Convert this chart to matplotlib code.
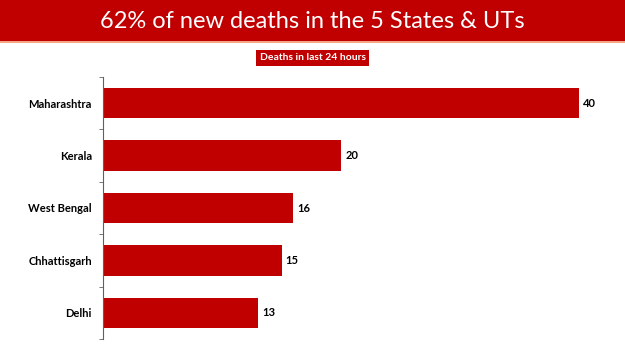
import matplotlib.pyplot as plt
from matplotlib.patches import Rectangle

states = ['Maharashtra', 'Kerala', 'West Bengal', 'Chhattisgarh', 'Delhi']
deaths = [40, 20, 16, 15, 13]

title = '62% of new deaths in the 5 States & UTs'
subtitle = 'Deaths in last 24 hours'
red = '#C00000'

plt.rcParams['font.family'] = ['Lato', 'DejaVu Sans']

fig = plt.figure(figsize=(6.25, 3.51), dpi=100)
fig.patch.set_facecolor('white')

# banner
fig.patches.append(Rectangle((0, 1 - 41 / 351), 1, 41 / 351, transform=fig.transFigure,
                             facecolor=red, edgecolor='none'))
fig.patches.append(Rectangle((0, 1 - 43 / 351), 1, 2 / 351, transform=fig.transFigure,
                             facecolor='#F4A582', edgecolor='none'))
fig.text(0.5, 1 - 21 / 351, title, color='white', fontsize=17, ha='center', va='center')
fig.text(0.5, 1 - 58 / 351, subtitle, color='white', fontsize=7.5, fontweight='bold',
         ha='center', va='center',
         bbox=dict(boxstyle='square,pad=0.3', facecolor=red, edgecolor='none'))

ax = fig.add_axes([103 / 625, 1 - 339 / 351, (579 - 103) / 625, (339 - 77) / 351])
y = list(range(len(states)))
ax.barh(y, deaths, height=0.58, color=red)
ax.set_ylim(len(states) - 0.5, -0.5)
ax.set_xlim(0, 40)
ax.set_yticks(y)
ax.set_yticklabels(states, fontsize=8, fontweight='bold')
ax.set_yticks([i + 0.5 for i in range(-1, len(states))], minor=True)
ax.tick_params(axis='y', which='major', length=0, pad=8)
ax.tick_params(axis='y', which='minor', length=3, color='#606060')
ax.set_xticks([])
for s in ['top', 'right', 'bottom']:
    ax.spines[s].set_visible(False)
ax.spines['left'].set_color('#606060')
ax.spines['left'].set_linewidth(0.8)

for yi, v in zip(y, deaths):
    ax.text(v + 0.35, yi, str(v), va='center', ha='left', fontsize=8, fontweight='bold',
            clip_on=False)

fig.savefig('out.png', dpi=100)
